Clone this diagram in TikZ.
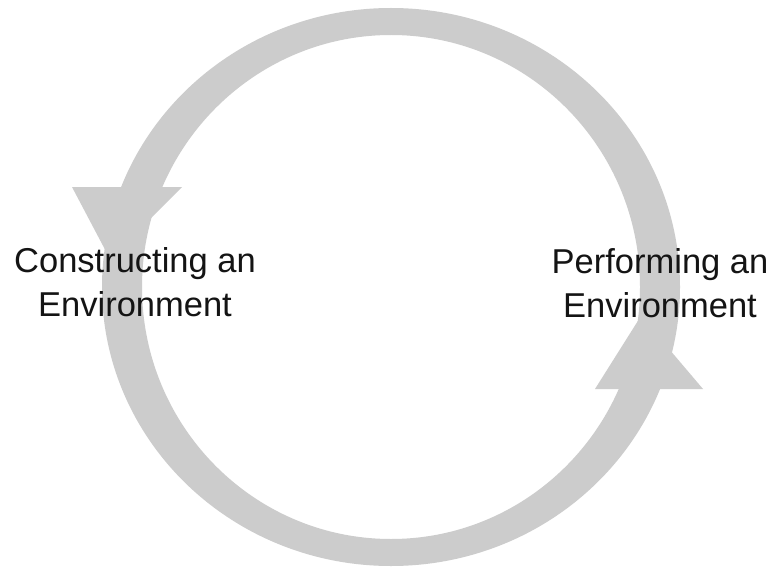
\documentclass[tikz,border=0pt]{standalone}
\usepackage{fontspec}
\setmainfont{Liberation Sans}
\begin{document}
\begin{tikzpicture}[x=1pt,y=-1pt,
  ringfill/.style={fill=cyclegray},
  label/.style={align=center, text=labelink, inner sep=0pt,
    font=\fontsize{34.5}{44}\selectfont}]
\definecolor{cyclegray}{HTML}{CCCCCC}
\definecolor{labelink}{HTML}{141414}
\useasboundingbox[fill=white] (0,0) rectangle (771,567);

% the cycle band
\fill[ringfill, even odd rule]
  (391,287) ellipse [x radius=289pt, y radius=279pt]
  (391,287) ellipse [x radius=249pt, y radius=252pt];

% arrowheads: downward on the left, upward on the right
\fill[ringfill] (72,187) -- (182,187) -- (110,259) -- cycle;
\fill[ringfill] (595,389) -- (703,389) -- (641,316) -- cycle;

% stage labels (base anchor sits on the last line)
\node[label, anchor=base] (construct) at (135,316)
  {Constructing an\\Environment};
\node[label, anchor=base] (perform) at (660,317)
  {Performing an\\Environment};
\end{tikzpicture}
\end{document}
